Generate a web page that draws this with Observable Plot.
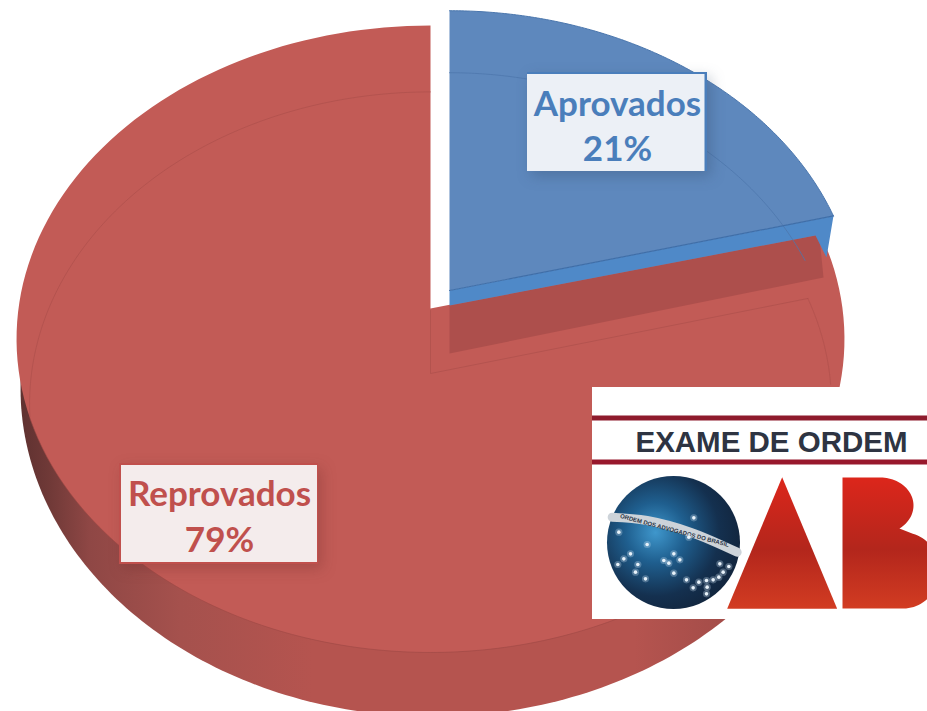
<!DOCTYPE html>
<html>
<head>
<meta charset="utf-8">
<script src="https://cdn.jsdelivr.net/npm/d3@7"></script>
<script src="https://cdn.jsdelivr.net/npm/@observablehq/plot@0.6"></script>
<style>
html,body{margin:0;padding:0;background:#fff;overflow:hidden}
svg{display:block}
</style>
</head>
<body>
<div id="chart"></div>
<script>
const categories = ["Aprovados", "Reprovados"];
const shares = [21, 79];
const logoTitle = "EXAME DE ORDEM";
const logoMotto = "ORDEM DOS ADVOGADOS DO BRASIL";

// pie angles come from the values
const arcs = d3.pie().sort(null)(shares);
const cut = arcs[0].endAngle;

// tilted-disc projection with a little perspective
const K = 0.0973;
const disc = (ax, ay, R, H) => t => {
  const w = 1 + K * Math.cos(t);
  return [ax + R * Math.sin(t) / w, ay - H * Math.cos(t) / w];
};
const sweep = (f, a, b, n = 160) => d3.range(n + 1).map(i => f(a + (b - a) * i / n));
const rad = d => d * Math.PI / 180;

const redTop = disc(430, 308, 412, 310.5);
const redBase = disc(432, 356, 410, 325);
const redInner = disc(430, 373, 399, 309);
const blueTop = disc(449, 290, 406, 307);
const blueInner = disc(449, 352, 385, 307);

const TAU = 2 * Math.PI;
const P = (x, y) => [x, y];
const redFace = [P(430, 308), ...sweep(redTop, cut, TAU)];
const redSide = sweep(redBase, rad(130), rad(290));
const blueFace = [P(449, 290), ...sweep(blueTop, 0, cut)];
const blueBand = [P(449, 290), blueTop(cut), P(826, 257), P(815, 235), P(449, 305)];
const shade = [P(449, 305), P(815, 235), P(819, 237), P(823, 277), P(449, 353)];

const Z = (zx, zy) => [580 + zx / 3, 380 + zy / 3];
const stars = [[115,455],[130,535],[112,552],[150,520],[172,552],[165,575],[195,595],[200,492],[250,540],[265,548],[280,520],[298,538],[280,578],[318,598],[338,622],[355,605],[378,600],[398,598],[415,590],[428,575],[418,550],[445,558],[380,620],[378,640],[325,470],[340,412]].map(d => Z(d[0], d[1]));
const motto = [[95,410],[200,420],[330,455],[470,515]].map(d => Z(d[0], d[1]));
const letterA = [Z(605,290), Z(440,685), Z(770,685)];
const lobe = (cx, cy, rx, ry) => a => [cx + rx * Math.cos(a), cy + ry * Math.sin(a)];
const letterB = [
  P(842, 477),
  ...sweep(lobe(880, 505, 33, 28), rad(-90), rad(55), 40),
  ...sweep(lobe(903, 570, 36, 38), rad(-75), rad(90), 40),
  P(842, 608)
];

const px = d => d[0], py = d => d[1];
const shape = (pts, fill, extra = {}) =>
  Plot.line(pts, {x: px, y: py, fill, stroke: "none", curve: "linear", ...extra});
const trace = (pts, stroke, strokeWidth = 1, strokeOpacity = 1) =>
  Plot.line(pts, {x: px, y: py, stroke, strokeWidth, strokeOpacity, curve: "linear"});
const box = (x1, y1, x2, y2, fill, extra = {}) =>
  Plot.rect([{x1, y1, x2, y2}], {x1: "x1", y1: "y1", x2: "x2", y2: "y2", fill, ...extra});

const defs = () => {
  const g = document.createElementNS("http://www.w3.org/2000/svg", "defs");
  g.innerHTML = `
  <linearGradient id="sideGrad" gradientUnits="userSpaceOnUse" x1="15" y1="0" x2="840" y2="0">
    <stop offset="0" stop-color="#5c302f"/><stop offset="0.04" stop-color="#6f3937"/><stop offset="0.09" stop-color="#8f4745"/>
    <stop offset="0.2" stop-color="#a5514d"/><stop offset="0.36" stop-color="#b5544f"/>
    <stop offset="0.75" stop-color="#b5544f"/><stop offset="1" stop-color="#8e4341"/>
  </linearGradient>
  <radialGradient id="globeGrad" gradientUnits="userSpaceOnUse" cx="655" cy="532" r="85">
    <stop offset="0" stop-color="#3f97cc"/><stop offset="0.35" stop-color="#1f5f8f"/>
    <stop offset="0.75" stop-color="#14304f"/><stop offset="1" stop-color="#12263f"/>
  </radialGradient>
  <linearGradient id="letterGrad" gradientUnits="userSpaceOnUse" x1="0" y1="477" x2="0" y2="608">
    <stop offset="0" stop-color="#dc261b"/><stop offset="0.55" stop-color="#b3261c"/>
    <stop offset="1" stop-color="#d23c22"/>
  </linearGradient>`;
  return g;
};

const labelFont = {fontFamily: "Lato, Carlito, sans-serif", fontWeight: 700, fontSize: 35, lineHeight: 1.29, textAnchor: "middle"};

const chart = Plot.plot({
  width: 927,
  height: 711,
  margin: 0,
  axis: null,
  style: {background: "#fff"},
  x: {domain: [0, 927], range: [0, 927]},
  y: {domain: [0, 711], range: [0, 711]},
  marks: [
    defs,
    // disc body
    shape(redSide, "url(#sideGrad)"),
    shape(redFace, "#c25b56"),
    trace(sweep(redTop, rad(115), rad(250)), "#9c4744", 1, 0.6),
    // faint inner reflections
    trace(sweep(redInner, rad(262), TAU), "#a84c49", 1, 0.55),
    trace(sweep(redInner, cut, rad(92)), "#a84c49", 1, 0.55),
    trace([P(430, 310), P(430, 373), redInner(cut)], "#a84c49", 1, 0.55),
    // shadow of the lifted slice
    shape(shade, "#ad4f4c"),
    // lifted slice
    shape(blueBand, "#4f89c8"),
    shape(blueFace, "#5e88bd"),
    trace(sweep(blueInner, 0, rad(72)), "#4d77ad", 1, 0.8),
    trace([P(449, 290), blueTop(cut)], "#3f6ea8", 1.2),
    trace(sweep(blueTop, 0, cut), "#4a76ad", 1),
    // labels
    box(527, 72, 707, 171, "#4a7ebb", {imageFilter: "drop-shadow(4px 5px 7px rgba(40,60,90,0.28))"}),
    box(527, 74, 704.5, 171, "#ecf0f6"),
    Plot.text([`${categories[0]}\n${shares[0]}%`], {x: () => 617, y: () => 123.5, text: d => d, fill: "#4a7ebb", ...labelFont}),
    box(119, 463, 318, 564, "#c0504d", {imageFilter: "drop-shadow(4px 5px 7px rgba(90,30,30,0.25))"}),
    box(121, 465, 317, 562, "#f4ecec"),
    Plot.text([`${categories[1]}\n${shares[1]}%`], {x: () => 219, y: () => 514, text: d => d, fill: "#c0504d", ...labelFont}),
    // logo
    box(592, 387, 927, 619, "#ffffff"),
    box(592, 415.5, 927, 420.5, "#8e1b2c"),
    box(592, 459.5, 927, 464.5, "#98182c"),
    Plot.text([logoTitle], {x: () => 771, y: () => 442, text: d => d, fill: "#2e3442", fontFamily: "Liberation Sans, Arial, sans-serif", fontWeight: 700, fontSize: 29.5, textAnchor: "middle"}),
    Plot.dot([[673, 542]], {x: px, y: py, r: 66.5, fill: "url(#globeGrad)", stroke: "none"}),
    Plot.line(motto, {x: px, y: py, stroke: "#cdd3d9", strokeWidth: 9, curve: "catmull-rom"}),
    Plot.text([logoMotto], {x: () => 674, y: () => 530, text: d => d, rotate: 15, fill: "#2b3444", fontFamily: "Liberation Sans, Arial, sans-serif", fontWeight: 700, fontSize: 6, textAnchor: "middle"}),
    Plot.dot(stars, {x: px, y: py, r: 3.6, fill: "#cfe6f5", fillOpacity: 0.3, stroke: "none"}),
    Plot.dot(stars, {x: px, y: py, r: 1.8, fill: "#e8f2fa", stroke: "none"}),
    shape(letterA, "url(#letterGrad)"),
    shape(letterB, "url(#letterGrad)")
  ]
});
document.getElementById("chart").append(chart);
</script>
</body>
</html>
